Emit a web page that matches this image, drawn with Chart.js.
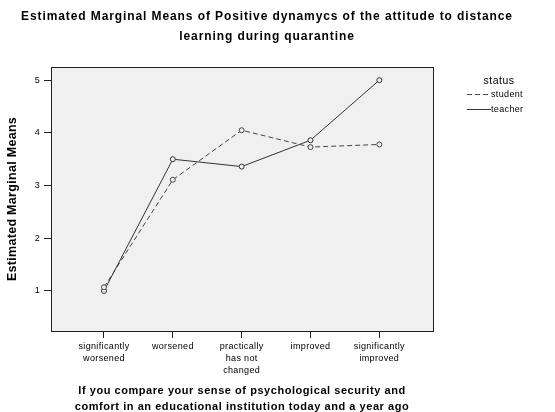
<!DOCTYPE html>
<html>
<head>
<meta charset="utf-8">
<script src="https://cdn.jsdelivr.net/npm/chart.js@4"></script>
<style>
html,body{margin:0;padding:0;background:#fff;}
#wrap{width:555px;height:412px;}
</style>
</head>
<body>
<div id="wrap"><canvas id="c" width="555" height="412"></canvas></div>
<script>
const categories = [
  ['significantly', 'worsened'],
  ['worsened'],
  ['practically', 'has not', 'changed'],
  ['improved'],
  ['significantly', 'improved']
];
const studentValues = [1.07, 3.11, 4.05, 3.73, 3.78];
const teacherValues = [1.00, 3.50, 3.36, 3.86, 5.00];
const yTickValues = [1, 2, 3, 4, 5];
const seriesNames = ['student', 'teacher'];
const legendTitle = 'status';
const chartTitle = ['Estimated Marginal Means of Positive dynamycs of the attitude to distance', 'learning during quarantine'];
const xTitle = ['If you compare your sense of psychological security and', 'comfort in an educational institution today and a year ago'];
const yTitle = 'Estimated Marginal Means';

const FONT = "'Liberation Sans', Arial, sans-serif";

// SPSS-style slightly spaced text: letter spacing chosen per font size
const spacingFor = font => {
  if (/bold/.test(font) && /\b12px/.test(font)) return '0.9px';
  if (/bold/.test(font) && /12\.5px/.test(font)) return '0.3px';
  if (/bold/.test(font) && /\b11px/.test(font)) return '0.55px';
  if (/10\.5px/.test(font)) return '0.5px';
  if (/\b9px/.test(font)) return '0.35px';
  return '0px';
};
const canvas = document.getElementById('c');
const ctx2d = canvas.getContext('2d');
const origFill = ctx2d.fillText.bind(ctx2d);
ctx2d.fillText = function (t, x, y, mw) {
  const prev = this.letterSpacing;
  this.letterSpacing = spacingFor(this.font);
  if (mw === undefined) origFill(t, x, y); else origFill(t, x, y, mw);
  this.letterSpacing = prev;
};

const toPoints = vals => vals.map((v, i) => ({x: i, y: v}));

const boxPlugin = {
  id: 'box',
  beforeDatasetsDraw(chart) {
    const {ctx, chartArea: a} = chart;
    ctx.save();
    ctx.fillStyle = '#f0f0f0';
    ctx.fillRect(a.left, a.top, a.right - a.left, a.bottom - a.top);
    ctx.restore();
  },
  afterDraw(chart) {
    const {ctx, chartArea: a} = chart;
    ctx.save();
    ctx.strokeStyle = '#222';
    ctx.lineWidth = 1;
    ctx.strokeRect(Math.round(a.left) + 0.5, Math.round(a.top) + 0.5, Math.round(a.right - a.left), Math.round(a.bottom - a.top));
    // legend
    ctx.fillStyle = '#000';
    ctx.textBaseline = 'middle';
    ctx.textAlign = 'center';
    ctx.font = '10.5px ' + FONT;
    ctx.fillText(legendTitle, 499, 81);
    ctx.font = '9px ' + FONT;
    ctx.textAlign = 'left';
    chart.data.datasets.forEach((ds, i) => {
      const y = 94.5 + i * 15;
      ctx.strokeStyle = ds.borderColor;
      ctx.lineWidth = 1;
      ctx.setLineDash(ds.borderDash || []);
      ctx.beginPath();
      ctx.moveTo(467, y);
      ctx.lineTo(491, y);
      ctx.stroke();
      ctx.setLineDash([]);
      ctx.fillText(ds.label, 491, y);
    });
    ctx.restore();
  }
};

new Chart(canvas, {
  type: 'line',
  data: {
    datasets: [
      {
        label: seriesNames[0],
        data: toPoints(studentValues),
        borderColor: '#444',
        borderWidth: 1,
        borderDash: [5, 3],
        pointRadius: 2.5,
        pointBorderWidth: 1,
        pointBackgroundColor: '#f0f0f0',
        pointBorderColor: '#444',
        fill: false,
        tension: 0
      },
      {
        label: seriesNames[1],
        data: toPoints(teacherValues),
        borderColor: '#333',
        borderWidth: 1,
        pointRadius: 2.5,
        pointBorderWidth: 1,
        pointBackgroundColor: '#f0f0f0',
        pointBorderColor: '#333',
        fill: false,
        tension: 0
      }
    ]
  },
  options: {
    responsive: false,
    animation: false,
    devicePixelRatio: 1,
    layout: {padding: {left: 0, right: 21, top: 0, bottom: 0}},
    plugins: {
      legend: {display: false},
      tooltip: {enabled: false},
      title: {
        display: true,
        text: chartTitle,
        color: '#000',
        font: {family: FONT, size: 12, weight: 'bold', lineHeight: '20px'},
        padding: {top: 7, bottom: 20}
      }
    },
    scales: {
      x: {
        type: 'linear',
        min: -0.77,
        max: 4.78,
        afterBuildTicks: s => { s.ticks = categories.map((c, i) => ({value: i})); },
        afterFit: s => { s.height = 81; },
        grid: {drawOnChartArea: false, drawTicks: true, tickLength: 7, color: '#222'},
        border: {display: false},
        ticks: {
          autoSkip: false,
          maxRotation: 0,
          padding: 3,
          color: '#000',
          font: {family: FONT, size: 9, lineHeight: '12px'},
          callback: v => categories[v]
        },
        title: {
          display: true,
          text: xTitle,
          color: '#000',
          font: {family: FONT, size: 11, weight: 'bold', lineHeight: '16px'},
          padding: {top: 0, bottom: -3}
        }
      },
      y: {
        type: 'linear',
        position: 'left',
        min: 0.24,
        max: 5.25,
        afterBuildTicks: s => { s.ticks = yTickValues.map(v => ({value: v})); },
        afterFit: s => { s.width = 51; },
        grid: {drawOnChartArea: false, drawTicks: true, tickLength: 7, color: '#222'},
        border: {display: false},
        ticks: {
          padding: 4,
          color: '#000',
          font: {family: FONT, size: 9}
        },
        title: {
          display: true,
          text: yTitle,
          color: '#000',
          font: {family: FONT, size: 12.5, weight: 'bold', lineHeight: '16px'},
          padding: {top: 5, bottom: 0}
        }
      },
      y2: {
        type: 'linear',
        position: 'right',
        min: 0.24,
        max: 5.25,
        display: true,
        afterFit: s => { s.width = 101; },
        grid: {display: false, drawTicks: false},
        border: {display: false},
        ticks: {display: false}
      }
    }
  },
  plugins: [boxPlugin]
});
</script>
</body>
</html>
